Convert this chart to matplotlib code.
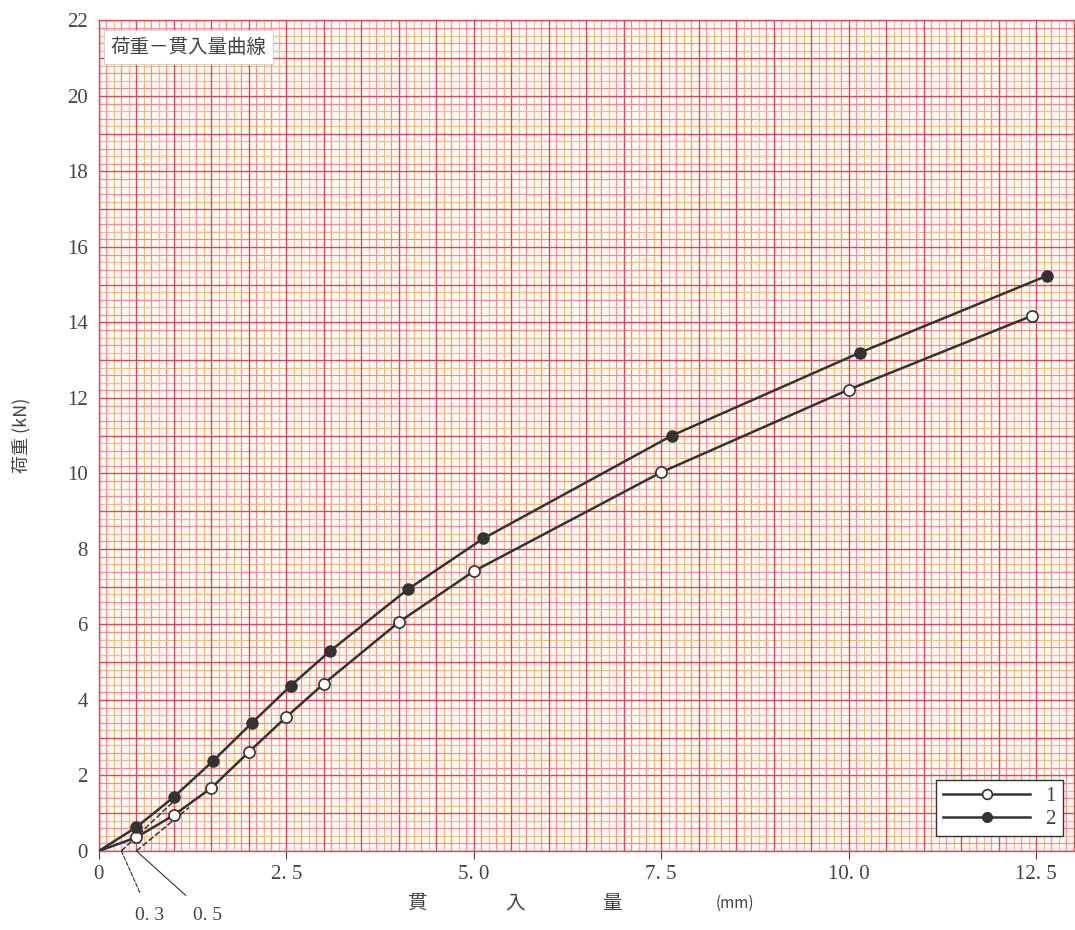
"""CBR test: load - penetration curves on graph paper"""

import matplotlib.pyplot as plt
import numpy as np

plt.rcParams["font.family"] = ["Noto Sans CJK JP", "DejaVu Sans"]
SERIF = ["Liberation Serif", "DejaVu Serif"]

# data (penetration in mm, load in kN)
pen_1 = [0.0, 0.5, 1.0, 1.5, 2.0, 2.5, 3.0, 4.0, 5.0, 7.5, 10.0, 12.45]
load_1 = [0.0, 0.36, 0.95, 1.67, 2.62, 3.55, 4.43, 6.06, 7.41, 10.03, 12.22, 14.18]
pen_2 = [0.0, 0.5, 1.0, 1.52, 2.04, 2.56, 3.08, 4.12, 5.13, 7.64, 10.15, 12.65]
load_2 = [0.0, 0.63, 1.43, 2.38, 3.39, 4.38, 5.29, 6.93, 8.28, 11.0, 13.2, 15.24]

# corrected origins (tangent lines)
tan_x_1 = [0.5, 1.2]
tan_y_1 = [0.0, 1.15]
tan_x_2 = [0.3, 1.0]
tan_y_2 = [0.0, 1.32]

xticks = [0, 2.5, 5.0, 7.5, 10.0, 12.5]
xtick_labels = ["0", "2. 5", "5. 0", "7. 5", "10. 0", "12. 5"]
yticks = list(range(0, 23, 2))

XMAX = 13.02
YMAX = 22.0
INK = "#333333"
TXT = "#444444"

fig = plt.figure(figsize=(10.75, 9.3), dpi=100)
ax = fig.add_axes([0.092, 0.085, 0.908, 0.893])
ax.set_facecolor("#fffaf2")

# graph paper
fine_x = np.arange(0, XMAX, 0.1)
fine_y = np.arange(0, YMAX + 0.01, 0.2)
for i, xv in enumerate(fine_x):
    if i % 5 == 0:
        ax.axvline(xv, color="#d94a62", lw=1.0, zorder=1)
    else:
        ax.axvline(xv, color="#ee8e9c" if i % 2 else "#f0bd7c", lw=0.9, zorder=0)
for i, yv in enumerate(fine_y):
    if i % 5 == 0:
        ax.axhline(yv, color="#d94a62", lw=1.0, zorder=1)
    else:
        ax.axhline(yv, color="#ee8e9c" if i % 2 else "#f0bd7c", lw=0.9, zorder=0)

# curves
ax.plot(pen_1, load_1, "-", color=INK, lw=1.8, zorder=3)
ax.plot(pen_2, load_2, "-", color=INK, lw=1.8, zorder=3)
ax.plot(pen_1[1:], load_1[1:], "o", color=INK, mfc="white", mec=INK, ms=8, mew=1.2,
        zorder=4)
ax.plot(pen_2[1:], load_2[1:], "o", color=INK, mfc=INK, mec=INK, ms=8, zorder=4)
ax.plot([], [], "-o", color=INK, mfc="white", mec=INK, ms=7, mew=1.2, lw=1.8, label="1")
ax.plot([], [], "-o", color=INK, mfc=INK, mec=INK, ms=7, lw=1.8, label="2")

ax.plot(tan_x_1, tan_y_1, "--", color=INK, lw=1.1, zorder=3)
ax.plot(tan_x_2, tan_y_2, "--", color=INK, lw=1.1, zorder=3)

# leaders to the corrected origins
ax.annotate("0. 3", xy=(tan_x_2[0], 0), xytext=(0.68, -1.7), ha="center", va="center",
            fontsize=14, color=TXT, family=SERIF, annotation_clip=False,
            arrowprops=dict(arrowstyle="-", color=INK, lw=0.8, ls="--",
                            shrinkA=9, shrinkB=0))
ax.annotate("0. 5", xy=(tan_x_1[0], 0), xytext=(1.45, -1.7), ha="center", va="center",
            fontsize=14, color=TXT, family=SERIF, annotation_clip=False,
            arrowprops=dict(arrowstyle="-", color=INK, lw=0.8,
                            shrinkA=9, shrinkB=0))

ax.set_xlim(0, XMAX)
ax.set_ylim(0, YMAX)
ax.set_xticks(xticks)
ax.set_xticklabels(xtick_labels)
ax.set_yticks(yticks)
ax.tick_params(axis="x", direction="out", length=6, width=0.8, colors=TXT,
               labelsize=15, pad=4)
ax.tick_params(axis="y", length=0, colors=TXT, labelsize=15, pad=8)
for lab in ax.get_xticklabels() + ax.get_yticklabels():
    lab.set_family(SERIF)
for side in ax.spines.values():
    side.set_color("#d94a62")
    side.set_linewidth(1.0)

# axis labels
ax.set_ylabel("荷重 (kN)", fontsize=13, color=TXT, labelpad=26)
for txt, px in [("貫", 418), ("入", 515), ("量", 612), ("(mm)", 735)]:
    ax.text((px - 99) / 976, -0.063, txt, transform=ax.transAxes, ha="center",
            va="center", fontsize=14 if txt != "(mm)" else 11, color=TXT)

ax.text(0.012, 0.968, "荷重－貫入量曲線", transform=ax.transAxes, fontsize=14,
        color=TXT, va="center", ha="left", zorder=6,
        bbox=dict(boxstyle="square,pad=0.35", fc="white", ec="#cccccc", lw=0.6))

leg = ax.legend(loc="lower right", bbox_to_anchor=(0.998, 0.005),
                prop=dict(family=SERIF, size=15),
                handlelength=4.2, frameon=True, fancybox=False, borderpad=0.35,
                labelspacing=0.15, handletextpad=0.7, markerfirst=True)
leg.get_frame().set_edgecolor(INK)
leg.get_frame().set_linewidth(1.0)
leg.get_frame().set_alpha(1.0)
for t in leg.get_texts():
    t.set_color(TXT)
leg.set_zorder(6)

fig.savefig("out.png", dpi=100)
